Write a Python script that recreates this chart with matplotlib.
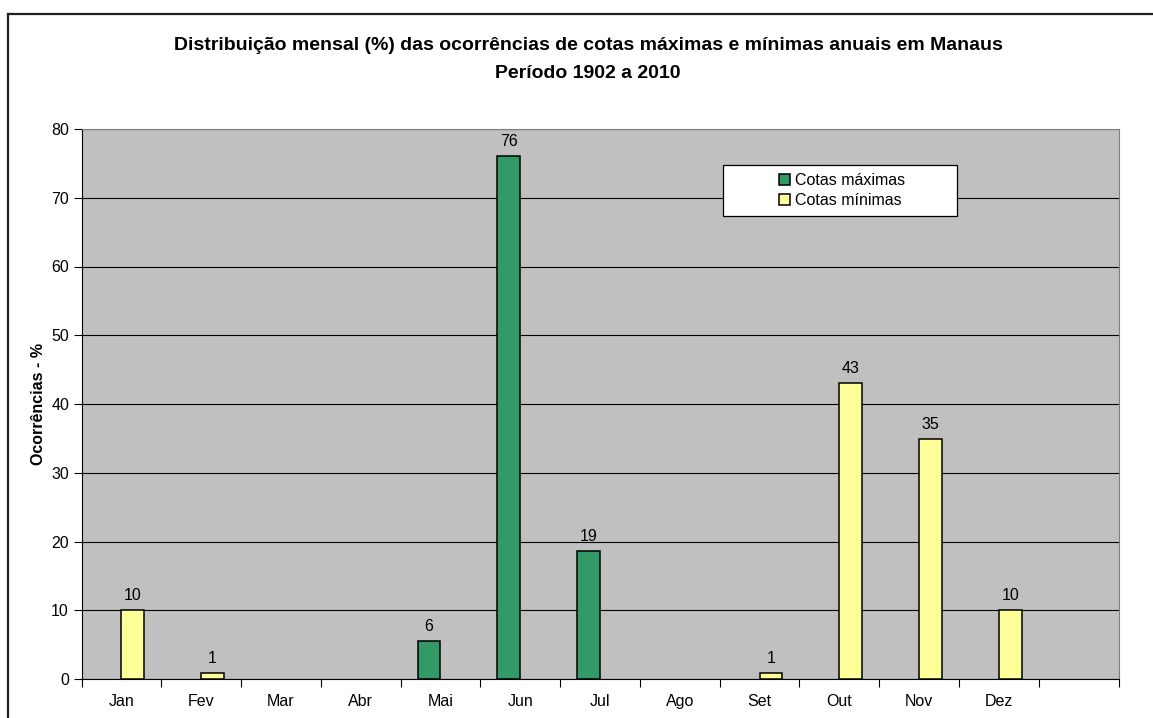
import matplotlib
matplotlib.use("Agg")
import matplotlib.pyplot as plt
import matplotlib.patches as mpatches
from matplotlib.lines import Line2D
import numpy as np

plt.rcParams['font.family'] = ['Liberation Sans', 'DejaVu Sans']

# data (percent of years), blank months are nan
meses = ['Jan', 'Fev', 'Mar', 'Abr', 'Mai', 'Jun', 'Jul', 'Ago', 'Set', 'Out', 'Nov', 'Dez', '']
cotas_max = [np.nan, np.nan, np.nan, np.nan, 5.5, 76.1, 18.6, np.nan, np.nan, np.nan, np.nan, np.nan, np.nan]
cotas_min = [10.1, 0.9, np.nan, np.nan, np.nan, np.nan, np.nan, np.nan, 0.9, 43.1, 34.9, 10.1, np.nan]

W, H = 1153, 718
fig = plt.figure(figsize=(W / 100, H / 100), dpi=100)
ax = fig.add_axes([81.5 / W, 1 - 679 / H, (1118.5 - 81.5) / W, (679 - 129) / H])
ax.set_facecolor('#c0c0c0')

x = np.arange(len(meses))
bw = 1 / 3.5
b1 = ax.bar(x - bw / 2, cotas_max, bw, color='#339966', edgecolor='black', linewidth=1.1,
            label='Cotas máximas', zorder=3)
b2 = ax.bar(x + bw / 2, cotas_min, bw, color='#ffff99', edgecolor='black', linewidth=1.1,
            label='Cotas mínimas', zorder=3)

# value labels
for bars, vals in ((b1, cotas_max), (b2, cotas_min)):
    for rect, v in zip(bars, vals):
        if np.isnan(v):
            continue
        ax.annotate(f'{v:.0f}', (rect.get_x() + rect.get_width() / 2, v),
                    xytext=(0, 5), textcoords='offset points',
                    ha='center', va='bottom', fontsize=11.5, color='black')

ax.set_xlim(-0.5, len(meses) - 0.5)
ax.set_ylim(0, 80)
ax.set_yticks(np.arange(0, 81, 10))
ax.yaxis.grid(True, color='black', linewidth=0.8, zorder=0)
ax.set_axisbelow(True)

# category ticks between months, labels at the centre
ax.set_xticks(np.arange(-0.5, len(meses)), labels=[])
ax.set_xticks(x, labels=meses, minor=True)
ax.tick_params(axis='x', which='major', length=6, width=0.8, color='black')
ax.tick_params(axis='x', which='minor', length=0, pad=11, labelsize=11.5)
ax.tick_params(axis='y', length=6, width=0.8, labelsize=11.5, pad=3)

for s in ('top', 'right'):
    ax.spines[s].set_color('#808080')
ax.spines['left'].set_color('black')
ax.spines['bottom'].set_color('black')

ax.set_ylabel('Ocorrências - %', fontsize=11.5, fontweight='bold', labelpad=4)

fig.text(588 / W, 1 - 45 / H,
         'Distribuição mensal (%) das ocorrências de cotas máximas e mínimas anuais em Manaus',
         ha='center', va='center', fontsize=14, fontweight='bold')
fig.text(588 / W, 1 - 73 / H, 'Período 1902 a 2010',
         ha='center', va='center', fontsize=14, fontweight='bold')

# legend box
fig.add_artist(mpatches.Rectangle((723 / W, 1 - 216 / H), 234 / W, 51 / H,
                                  transform=fig.transFigure, facecolor='white',
                                  edgecolor='black', linewidth=0.9, zorder=4))
leg = fig.legend(handles=[b1, b2], loc='center', bbox_to_anchor=(842 / W, 1 - 190.5 / H),
                 frameon=False, fontsize=11.5, handlelength=0.7, handleheight=0.7,
                 handletextpad=0.3, labelspacing=0.35)
leg.set_zorder(5)

# chart area border
fig.add_artist(Line2D([8 / W, 8 / W], [0, 1 - 14 / H], transform=fig.transFigure,
                      color='#202020', linewidth=1.6))
fig.add_artist(Line2D([8 / W, 1], [1 - 14 / H, 1 - 14 / H], transform=fig.transFigure,
                      color='#202020', linewidth=1.6))

fig.savefig('out.png', dpi=100, facecolor='white')
